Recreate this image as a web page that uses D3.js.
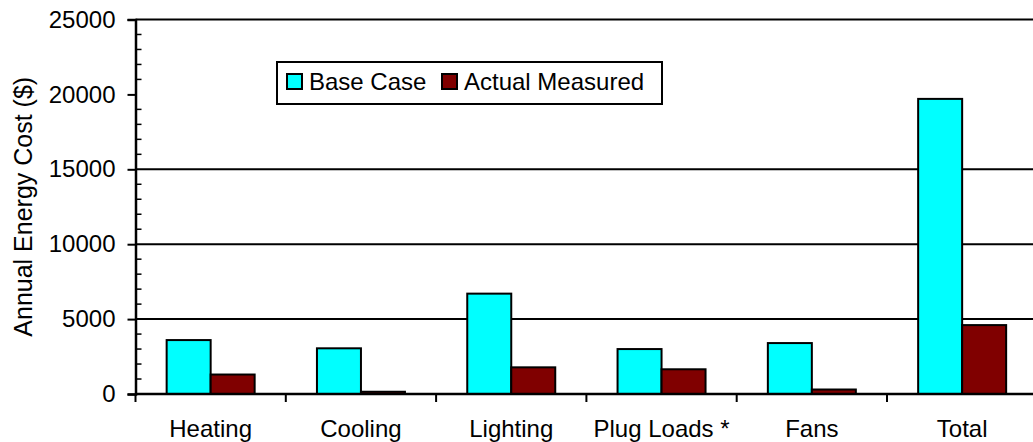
<!DOCTYPE html>
<html>
<head>
<meta charset="utf-8">
<script src="https://cdn.jsdelivr.net/npm/d3@7"></script>
<style>
  html, body { margin: 0; padding: 0; background: #fff; }
  svg { display: block; font-family: "Liberation Sans", Arial, sans-serif; }
</style>
</head>
<body>
<div id="chart"></div>
<script>
// data
const categories = ["Heating", "Cooling", "Lighting", "Plug Loads *", "Fans", "Total"];
const seriesNames = ["Base Case", "Actual Measured"];
const baseCase = [3600, 3050, 6700, 3000, 3400, 19700];
const actualMeasured = [1300, 150, 1780, 1650, 300, 4600];
const yTicks = [0, 5000, 10000, 15000, 20000, 25000];
const gridValues = [5000, 10000, 15000, 25000];

const colors = ["#00ffff", "#800000"];

const w = 1033, h = 442;
const plotLeft = 135.5, plotTop = 19.5, plotBottom = 394;
const bandW = 150.3;
const fontSize = "24px";

const svg = d3.select("#chart")
    .append("svg")
    .attr("width", w)
    .attr("height", h);

let x = d3.scaleBand()
    .domain(categories)
    .range([plotLeft, plotLeft + bandW * categories.length])
    .padding(0);

let xSub = d3.scaleBand()
    .domain(seriesNames)
    .range([0, x.bandwidth()])
    .paddingInner(0)
    .paddingOuter(0.708);

let y = d3.scaleLinear()
    .domain([0, 25000])
    .range([plotBottom, plotTop]);

// grid lines
svg.append("g")
    .selectAll("line")
    .data(gridValues)
    .enter()
    .append("line")
    .attr("x1", plotLeft)
    .attr("x2", w)
    .attr("y1", d => y(d))
    .attr("y2", d => y(d))
    .attr("stroke", "#000")
    .attr("stroke-width", 2);

// bars
let rows = categories.map((c, i) => ({cat: c, values: [baseCase[i], actualMeasured[i]]}));
let groups = svg.append("g")
    .selectAll("g")
    .data(rows)
    .enter()
    .append("g")
    .attr("transform", d => "translate(" + x(d.cat) + ",0)");

groups.selectAll("rect")
    .data(d => d.values.map((v, j) => ({name: seriesNames[j], value: v, j: j})))
    .enter()
    .append("rect")
    .attr("x", d => xSub(d.name))
    .attr("y", d => y(d.value))
    .attr("width", xSub.bandwidth())
    .attr("height", d => y(0) - y(d.value))
    .attr("fill", d => colors[d.j])
    .attr("stroke", "#000")
    .attr("stroke-width", 2);

// y axis
let yAxis = svg.append("g")
    .attr("transform", "translate(" + plotLeft + ",0)")
    .call(d3.axisLeft(y).tickValues(yTicks).tickFormat(d3.format("d")).tickSize(8).tickPadding(12));
yAxis.select(".domain").attr("stroke-width", 2.5);
yAxis.selectAll(".tick line").attr("stroke-width", 2);
yAxis.selectAll("text")
    .attr("font-size", fontSize)
    .attr("font-family", "Liberation Sans, Arial, sans-serif")
    .attr("fill", "#000");

// minor ticks, inside
let minor = d3.range(1000, 25000, 1000).filter(v => v % 5000 !== 0);
svg.append("g")
    .selectAll("line")
    .data(minor)
    .enter()
    .append("line")
    .attr("x1", plotLeft)
    .attr("x2", plotLeft + 6)
    .attr("y1", d => y(d))
    .attr("y2", d => y(d))
    .attr("stroke", "#000")
    .attr("stroke-width", 1.5);

// x axis
svg.append("line")
    .attr("x1", plotLeft)
    .attr("x2", w)
    .attr("y1", y(0))
    .attr("y2", y(0))
    .attr("stroke", "#000")
    .attr("stroke-width", 2.5);

svg.append("g")
    .selectAll("line")
    .data(categories)
    .enter()
    .append("line")
    .attr("x1", d => x(d))
    .attr("x2", d => x(d))
    .attr("y1", y(0))
    .attr("y2", y(0) + 8)
    .attr("stroke", "#000")
    .attr("stroke-width", 2);

svg.append("g")
    .selectAll("text")
    .data(categories)
    .enter()
    .append("text")
    .text(d => d)
    .attr("x", d => x(d) + x.bandwidth() / 2)
    .attr("y", 437)
    .attr("text-anchor", "middle")
    .attr("font-size", fontSize)
    .attr("fill", "#000");

// y title
svg.append("text")
    .text("Annual Energy Cost ($)")
    .attr("transform", "translate(32," + ((plotTop + plotBottom) / 2) + ") rotate(-90)")
    .attr("text-anchor", "middle")
    .attr("font-size", "25px")
    .attr("fill", "#000");

// legend
let legend = svg.append("g").attr("transform", "translate(277,62)");
legend.append("rect")
    .attr("width", 385)
    .attr("height", 42)
    .attr("fill", "#fff")
    .attr("stroke", "#000")
    .attr("stroke-width", 2);

let legendX = [10, 165];
let items = legend.selectAll(".item")
    .data(seriesNames)
    .enter()
    .append("g")
    .attr("transform", (d, i) => "translate(" + legendX[i] + ",0)");
items.append("rect")
    .attr("y", 12)
    .attr("width", 15)
    .attr("height", 15)
    .attr("fill", (d, i) => colors[i])
    .attr("stroke", "#000")
    .attr("stroke-width", 2);
items.append("text")
    .text(d => d)
    .attr("x", 22)
    .attr("y", 28)
    .attr("font-size", fontSize)
    .attr("fill", "#000");
</script>
</body>
</html>
